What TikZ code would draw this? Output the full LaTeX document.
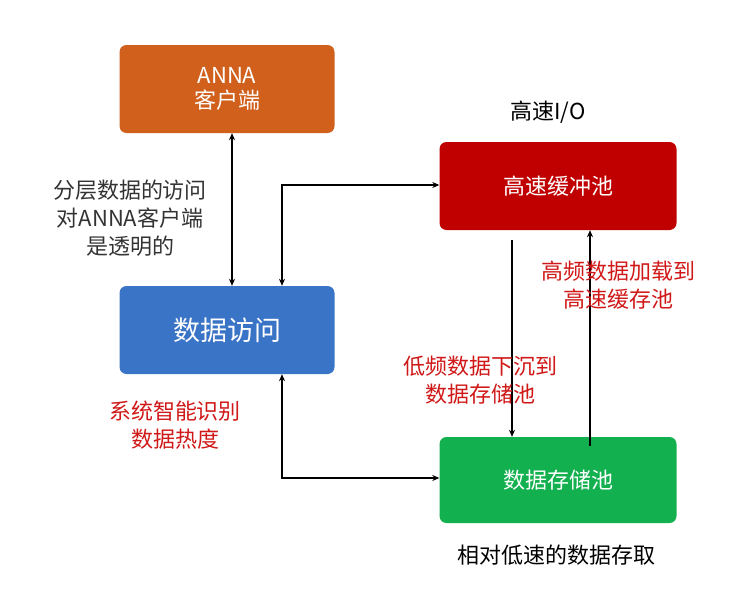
\documentclass[tikz,border=0pt]{standalone}
\usepackage{fontspec}
\setmainfont{Noto Sans CJK SC}
\usetikzlibrary{arrows.meta}
\definecolor{cor}{HTML}{D0601C}
\definecolor{cbl}{HTML}{3A74C6}
\definecolor{crd}{HTML}{C00000}
\definecolor{cgr}{HTML}{12B04E}
\definecolor{ctx}{HTML}{D01818}
\begin{document}
\begin{tikzpicture}[x=1pt,y=-1pt,
  box/.style={rounded corners=7pt,minimum width=215pt,minimum height=88pt,text=white,font=\fontsize{22}{25}\selectfont,align=center},
  ar/.style={-{Stealth[length=7pt,width=6pt]},line width=1.5pt},
  bar/.style={{Stealth[length=7pt,width=6pt]}-{Stealth[length=7pt,width=6pt]},line width=1.5pt},
  lab/.style={font=\fontsize{22}{28}\selectfont,align=center},
  rlab/.style={lab,text=ctx}]
\useasboundingbox (0,0) rectangle (740,616);
\node[box,fill=cor] (anna) at (227,89) {ANNA\\客户端};
\node[box,fill=cbl,font=\fontsize{27}{30}\selectfont] (acc) at (227,330) {数据访问};
\node[box,fill=crd,minimum width=237pt] (cache) at (558,186) {高速缓冲池};
\node[box,fill=cgr,minimum width=237pt,minimum height=86pt] (store) at (558,480) {数据存储池};
\coordinate (c1) at (282,185);
\coordinate (c2) at (282,478);
\draw[bar] ([xshift=5pt]anna.south) -- ([xshift=5pt]acc.north);
\draw[bar] ([xshift=55pt]acc.north) -- (c1) -- (cache.west|-c1);
\draw[bar] ([xshift=55pt]acc.south) -- (c2) -- (store.west|-c2);
\draw[ar] ([xshift=-46pt,yshift=-10pt]cache.south) -- ([xshift=-46pt]store.north);
\draw[ar] ([xshift=32pt,yshift=-9pt]store.north) -- ([xshift=32pt]cache.south);
\node[lab,text=black!80] (t1) at (130,218) {分层数据的访问\\对ANNA客户端\\是透明的};
\node[lab] (t2) at (548,112) {高速I/O};
\node[rlab] (t3) at (618,285) {高频数据加载到\\高速缓存池};
\node[rlab] (t4) at (480,380) {低频数据下沉到\\数据存储池};
\node[rlab] (t5) at (175,425) {系统智能识别\\数据热度};
\node[lab] (t6) at (556,555) {相对低速的数据存取};
\end{tikzpicture}
\end{document}
